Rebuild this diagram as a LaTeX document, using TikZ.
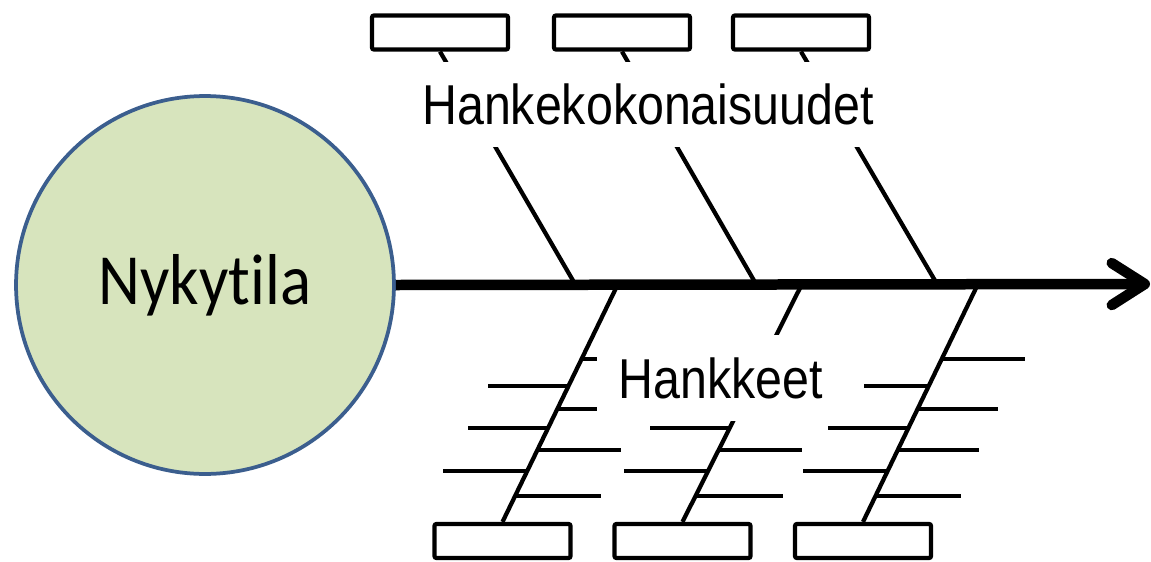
\documentclass[tikz,border=0pt]{standalone}
\usepackage{fontspec}
\setmainfont[FakeStretch=0.86]{Liberation Sans}
\newfontfamily\circlefont[FakeStretch=0.9, Ligatures=NoCommon]{Carlito}
\usetikzlibrary{arrows.meta}
\definecolor{circlefill}{HTML}{D7E4BD}
\definecolor{circleline}{HTML}{3B5E8E}
\tikzset{
  boxnode/.style={draw=black, line width=0.085cm, rounded corners=0.04cm, minimum width=2.72cm, minimum height=0.68cm, inner sep=0pt},
  bone/.style={line width=0.085cm},
  rib/.style={line width=0.072cm},
  labelnode/.style={fill=white, inner sep=0.1cm, font=\fontsize{32pt}{36pt}\selectfont}
}
\begin{document}
\begin{tikzpicture}[x=0.02cm, y=-0.02cm]
\useasboundingbox (0,0) rectangle (1151,561);

%top boxes
\node[boxnode] (kok1) at (440,32.5) {};
\node[boxnode] (kok2) at (622,32.5) {};
\node[boxnode] (kok3) at (801,32.5) {};
%bottom boxes
\node[boxnode] (hanke1) at (502.5,541) {};
\node[boxnode] (hanke2) at (682.5,541) {};
\node[boxnode] (hanke3) at (863,541) {};

%head
\node[circle, draw=circleline, fill=circlefill, line width=0.075cm, minimum size=7.56cm, inner sep=0pt,
      font=\circlefont\fontsize{41pt}{48pt}\selectfont] (nykytila) at (205,285) {Nykytila};

%points on the spine
\coordinate (up1) at (575,284);
\coordinate (up2) at (756,284);
\coordinate (up3) at (937,284);
\coordinate (lo1) at (618,284);
\coordinate (lo2) at (802,284);
\coordinate (lo3) at (978,284);
\coordinate (spineend) at (1150,284);

%bones
\draw[bone] (kok1.south) -- (up1);
\draw[bone] (kok2.south) -- (up2);
\draw[bone] (kok3.south) -- (up3);
\draw[bone] (lo1) -- (hanke1.north);
\draw[bone] (lo2) -- (hanke2.north);
\draw[bone] (lo3) -- (hanke3.north);

%ribs
\foreach \y/\a/\b in {359/581.8/640, 386/488/568.7, 409/557.6/640, 428/468/548.4,
                      450/537.8/621, 471/443/527.6, 496/515.5/601}
  \draw[rib] (\a,\y) -- (\b,\y);
\foreach \y/\a/\b in {428/650/730, 450/719/802, 471/624/708.5, 496/696/783}
  \draw[rib] (\a,\y) -- (\b,\y);
\foreach \y/\a/\b in {359/941.9/1025, 386/864/928.9, 409/917.9/998, 428/828/908.7,
                      450/898.2/979, 471/803/888, 496/876/961}
  \draw[rib] (\a,\y) -- (\b,\y);

%spine
\draw[line width=0.21cm, -{Straight Barb[length=0.66cm, width=0.84cm, round]}] (nykytila.east) -- (spineend);

%labels
\node[labelnode, minimum height=1.7cm] (kokonais) at (648,104.5) {Hankekokonaisuudet};
\node[labelnode, minimum width=4.96cm, minimum height=1.72cm] (hankkeet) at (721,378) {Hankkeet};

\end{tikzpicture}
\end{document}
